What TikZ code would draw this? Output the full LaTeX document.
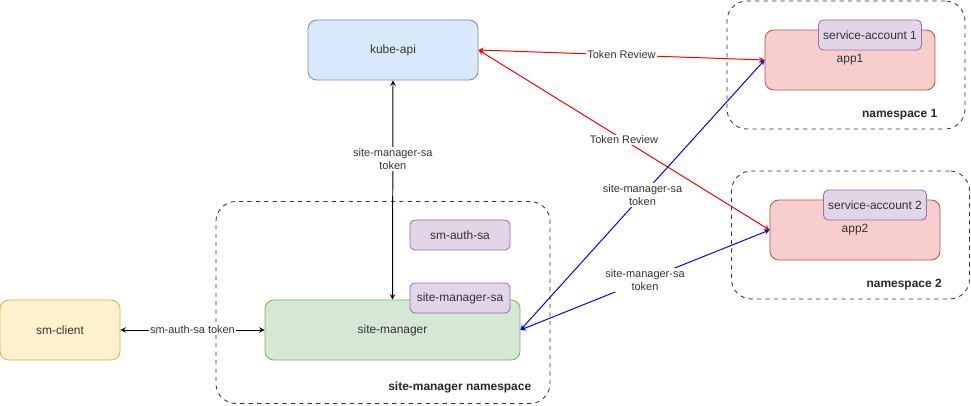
\documentclass[tikz,border=0pt]{standalone}
\usepackage{fontspec}
\setmainfont{Liberation Sans}
\usetikzlibrary{shapes, arrows, positioning}

\definecolor{apifill}{HTML}{DAE8FC}
\definecolor{apiline}{HTML}{6C8EBF}
\definecolor{smfill}{HTML}{D5E8D4}
\definecolor{smline}{HTML}{82B366}
\definecolor{clientfill}{HTML}{FFF2CC}
\definecolor{clientline}{HTML}{D6B656}
\definecolor{appfill}{HTML}{F8CECC}
\definecolor{appline}{HTML}{B85450}
\definecolor{safill}{HTML}{E1D5E7}
\definecolor{saline}{HTML}{9673A6}
\definecolor{labelgrey}{HTML}{333333}

\begin{document}
\begin{tikzpicture}[x=0.025cm, y=-0.025cm, every node/.style={font=\fontsize{8.5}{10}\selectfont, text=labelgrey}, align=center]

    % Define block styles
    \tikzstyle{namespace} = [rectangle, rounded corners=0.5cm, dashed, draw=black!80, line width=0.6pt]
    \tikzstyle{nslabel} = [inner sep=0pt, font=\fontsize{8.5}{10}\selectfont\bfseries, text=black!85]
    \tikzstyle{service} = [rectangle, rounded corners=0.22cm, minimum height=1.5cm, text centered, line width=0.6pt]
    \tikzstyle{account} = [rectangle, rounded corners=0.12cm, minimum width=2.5cm, minimum height=0.75cm, text centered, draw=saline, fill=safill, line width=0.6pt]
    \tikzstyle{arrow} = [line width=0.7pt,<->,>=stealth]
    \tikzstyle{edgelabel} = [fill=white, inner sep=1pt, font=\fontsize{7.8}{9.2}\selectfont]

    \useasboundingbox (0,0) rectangle (971,406);

    % Namespaces
    \node (ns1) [namespace, minimum width=5.95cm, minimum height=3.2cm] at (846,65) {};
    \node (ns2) [namespace, minimum width=5.95cm, minimum height=3.2cm] at (850.5,235) {};
    \node (smns) [namespace, minimum width=8.35cm, minimum height=5.05cm] at (383,302.5) {};
    \node (ns1label) [nslabel, above left=0.225cm and 0.7cm of ns1.south east] {namespace 1};
    \node (ns2label) [nslabel, above left=0.225cm and 0.7cm of ns2.south east] {namespace 2};
    \node (smnslabel) [nslabel, above left=0.27cm and 0.475cm of smns.south east] {site-manager namespace};

    % Place nodes
    \node (kubeapi) [service, draw=apiline, fill=apifill, minimum width=4.25cm] at (393,50) {kube-api};
    \node (smclient) [service, draw=clientline, fill=clientfill, minimum width=3cm] at (60,330) {sm-client};
    \node (sitemanager) [service, draw=smline, fill=smfill, minimum width=6.375cm] at (392.5,330) {site-manager};
    \node (smauthsa) [account] at (460,235) {sm-auth-sa};
    \node (sitemanagersa) [account] at (460,298) {site-manager-sa};
    \node (app1) [service, draw=appline, fill=appfill, minimum width=4.25cm] at (850,60) {app1};
    \node (sa1) [account] at (870,35) {service-account 1};
    \node (app2) [service, draw=appline, fill=appfill, minimum width=4.25cm] at (855,230) {app2};
    \node (sa2) [account] at (875,205) {service-account 2};

    % Draw arrows
    \draw [arrow, red] (kubeapi.east) -- node[edgelabel] {Token Review} (app1.west);
    \draw [arrow, red] (kubeapi.east) -- node[edgelabel] {Token Review} (app2.west);
    \draw [arrow, blue] (sitemanager.east) -- node[edgelabel] {site-manager-sa\\token} (app1.west);
    \draw [arrow, blue] (sitemanager.east) -- node[edgelabel] {site-manager-sa\\token} (app2.west);
    \draw [arrow] (kubeapi.south) -- node[edgelabel, pos=0.36] {site-manager-sa\\token} (sitemanager.north);
    \draw [arrow] (smclient.east) -- node[edgelabel] {sm-auth-sa token} (sitemanager.west);

\end{tikzpicture}
\end{document}
